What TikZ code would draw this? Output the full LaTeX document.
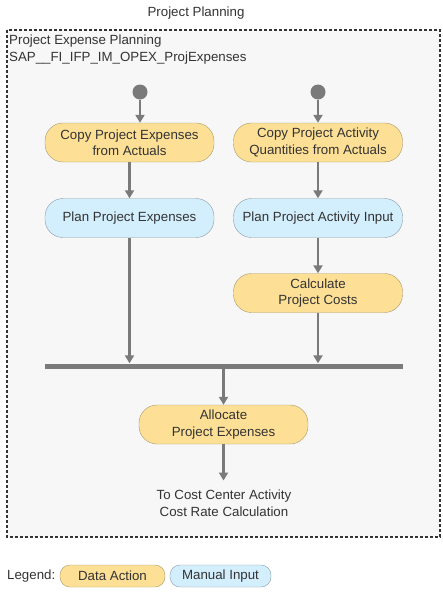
\documentclass[tikz,border=0pt]{standalone}
\usepackage{fontspec}
\setmainfont{Liberation Sans}
\usepackage{xcolor}
\usetikzlibrary{arrows.meta, positioning}

\definecolor{actfill}{HTML}{FDE096}
\definecolor{actline}{HTML}{A8996A}
\definecolor{manfill}{HTML}{D3EEFC}
\definecolor{manline}{HTML}{8C9AA8}
\definecolor{flowgray}{HTML}{7A7A7A}
\definecolor{areafill}{HTML}{F7F7F7}
\definecolor{txtgray}{HTML}{333333}

\begin{document}
\begin{tikzpicture}[x=1pt, y=-1pt, font=\fontsize{13.3}{16.5}\selectfont, text=txtgray,
    dataact/.style={draw=actline, fill=actfill, rounded corners=18pt, align=center, minimum width=169pt, minimum height=39pt, inner sep=1pt},
    manual/.style={draw=manline, fill=manfill, rounded corners=18pt, align=center, minimum width=169pt, minimum height=39pt, inner sep=1pt},
    flow/.style={-{Triangle[width=9pt,length=8pt]}, line width=2.5pt, draw=flowgray}]
    \useasboundingbox (0,0) rectangle (442,592);
    % Area
    \node at (196,13) {Project Planning};
    \draw[draw=txtgray, fill=areafill, line width=1.3pt, dash pattern=on 3pt off 2pt] (7,30) rectangle (440,537);
    \node[anchor=north west, align=left, inner sep=0pt] (area) at (9,35) {Project Expense Planning\\SAP\_\_FI\_IFP\_IM\_OPEX\_ProjExpenses};

    % Start points
    \node[circle, fill=flowgray, minimum size=15pt, inner sep=0pt] (startL) at (140,92) {};
    \node[circle, fill=flowgray, minimum size=15pt, inner sep=0pt] (startR) at (318,92) {};

    % Steps
    \node[dataact] (copyexp) at (129.5,142.5) {Copy Project Expenses\\from Actuals};
    \node[dataact] (copyqty) at (318,142.5) {Copy Project Activity\\Quantities from Actuals};
    \node[manual] (planexp) at (129.5,218) {Plan Project Expenses};
    \node[manual] (planact) at (318,218) {Plan Project Activity Input};
    \node[dataact] (calccost) at (318,293) {Calculate\\Project Costs};
    \node[fill=flowgray, minimum width=358pt, minimum height=5pt, inner sep=0pt] (join) at (224,366) {};
    \node[dataact] (alloc) at (223.5,424.5) {Allocate\\Project Expenses};
    \node[align=center, inner sep=0pt] (target) at (224,503) {To Cost Center Activity\\Cost Rate Calculation};

    % Flow
    \draw[flow] (startL) -- (startL |- copyexp.north);
    \draw[flow] (startR) -- (copyqty);
    \draw[flow] (copyexp) -- (planexp);
    \draw[flow] (copyqty) -- (planact);
    \draw[flow] (planact) -- (calccost);
    \draw[flow] (planexp) -- (planexp |- join.north);
    \draw[flow] (calccost) -- (calccost |- join.north);
    \draw[flow] (alloc |- join.south) -- (alloc);
    \draw[flow] (alloc) -- ++(0,56);

    % Legend
    \node[anchor=west, inner sep=0pt] (legend) at (7,576) {Legend:};
    \node[dataact, minimum width=105pt, minimum height=22pt, rounded corners=10pt] (legact) at (112.5,576) {Data Action};
    \node[manual, minimum width=101pt, minimum height=22pt, rounded corners=10pt] (legman) at (220.5,576) {Manual Input};
\end{tikzpicture}
\end{document}
